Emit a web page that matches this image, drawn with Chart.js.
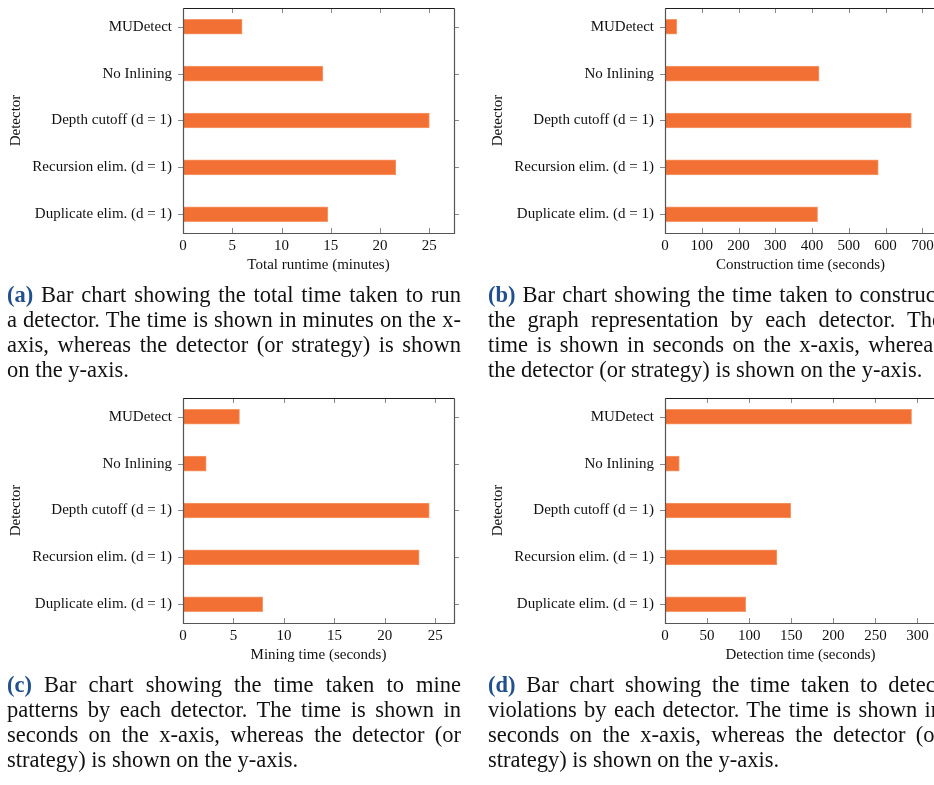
<!DOCTYPE html>
<html>
<head>
<meta charset="utf-8">
<script src="https://cdn.jsdelivr.net/npm/chart.js@4/dist/chart.umd.min.js"></script>
<style>
  html, body { margin: 0; padding: 0; background: #fff; }
  body { width: 934px; height: 785px; overflow: hidden; position: relative; }
  canvas.panel { position: absolute; }
  .caption {
    position: absolute; width: 454px;
    font-family: "Liberation Serif", "DejaVu Serif", serif;
    font-size: 22.5px; line-height: 25px; color: #111;
  }
  .caption .ln { text-align: justify; text-align-last: justify; }
  .caption .ln.last { text-align: left; text-align-last: left; }
  .caption .tag { color: #22508f; font-weight: bold; }
</style>
</head>
<body>
<canvas class="panel" id="chartA" width="467" height="285" style="left:0px;top:0px"></canvas>
<canvas class="panel" id="chartB" width="467" height="285" style="left:482px;top:0px"></canvas>
<canvas class="panel" id="chartC" width="467" height="285" style="left:0px;top:390px"></canvas>
<canvas class="panel" id="chartD" width="467" height="285" style="left:482px;top:390px"></canvas>

<div class="caption" style="left:7px;top:282px">
  <div class="ln"><span class="tag">(a)</span> Bar chart showing the total time taken to run</div>
  <div class="ln">a detector. The time is shown in minutes on the x-</div>
  <div class="ln">axis, whereas the detector (or strategy) is shown</div>
  <div class="ln last">on the y-axis.</div>
</div>
<div class="caption" style="left:488px;top:282px">
  <div class="ln"><span class="tag">(b)</span> Bar chart showing the time taken to construct</div>
  <div class="ln">the graph representation by each detector. The</div>
  <div class="ln">time is shown in seconds on the x-axis, whereas</div>
  <div class="ln last">the detector (or strategy) is shown on the y-axis.</div>
</div>
<div class="caption" style="left:7px;top:672px">
  <div class="ln"><span class="tag">(c)</span> Bar chart showing the time taken to mine</div>
  <div class="ln">patterns by each detector. The time is shown in</div>
  <div class="ln">seconds on the x-axis, whereas the detector (or</div>
  <div class="ln last">strategy) is shown on the y-axis.</div>
</div>
<div class="caption" style="left:488px;top:672px">
  <div class="ln"><span class="tag">(d)</span> Bar chart showing the time taken to detect</div>
  <div class="ln">violations by each detector. The time is shown in</div>
  <div class="ln">seconds on the x-axis, whereas the detector (or</div>
  <div class="ln last">strategy) is shown on the y-axis.</div>
</div>

<script>
// Detectors (strategies), listed top to bottom
const detectors = [
  'MUDetect',
  'No Inlining',
  'Depth cutoff (d = 1)',
  'Recursion elim. (d = 1)',
  'Duplicate elim. (d = 1)'
];

// Measured times per detector
const totalRuntimeMinutes = [6.0, 14.2, 25.0, 21.6, 14.7];
const constructionSeconds = [32, 419, 670, 580, 415];
const miningSeconds = [5.6, 2.3, 24.4, 23.4, 7.9];
const detectionSeconds = [293, 17, 149.5, 133, 96];

// Value-axis ticks
const ticksRuntime = [0, 5, 10, 15, 20, 25];
const ticksConstruction = [0, 100, 200, 300, 400, 500, 600, 700];
const ticksMining = [0, 5, 10, 15, 20, 25];
const ticksDetection = [0, 50, 100, 150, 200, 250, 300];

const SERIF = '"Liberation Serif", "DejaVu Serif", serif';
const BAR_FILL = '#f37035';
const BAR_EDGE = '#f69a6c';

// Box frame plus pgfplots-style tick marks, placed from the chart's own scales
const frameTicks = {
  id: 'frameTicks',
  afterDraw(chart) {
    const { ctx, chartArea: a, scales } = chart;
    const xs = scales.x, ys = scales.y;
    const len = 5;
    ctx.save();
    ctx.lineWidth = 1;
    ctx.strokeStyle = '#8a8a8a';
    ctx.beginPath();
    xs.ticks.forEach(t => {
      const px = Math.round(xs.getPixelForValue(t.value)) + 0.5;
      ctx.moveTo(px, a.bottom); ctx.lineTo(px, a.bottom - len);
      ctx.moveTo(px, a.top); ctx.lineTo(px, a.top + len);
    });
    ys.ticks.forEach(t => {
      const py = Math.round(ys.getPixelForValue(t.value)) + 0.5;
      ctx.moveTo(a.left - len, py); ctx.lineTo(a.left, py);
      ctx.moveTo(a.right, py); ctx.lineTo(a.right + len, py);
    });
    ctx.stroke();

    const L = Math.round(a.left) + 0.5, R = Math.round(a.right) + 0.5;
    const T = Math.round(a.top) + 0.5, B = Math.round(a.bottom) + 0.5;
    ctx.lineWidth = 1.2;
    ctx.strokeStyle = '#555';
    ctx.beginPath();
    ctx.moveTo(L, T); ctx.lineTo(L, B); ctx.lineTo(R, B); ctx.lineTo(R, T);
    ctx.stroke();
    ctx.strokeStyle = '#1e1e1e';
    ctx.beginPath();
    ctx.moveTo(L, T); ctx.lineTo(R, T);
    ctx.stroke();
    ctx.restore();
  }
};

function makeChart(id, values, xTicks, xMax, xTitle) {
  const ctx = document.getElementById(id);
  return new Chart(ctx, {
    type: 'bar',
    data: {
      datasets: [{
        data: values.map((v, i) => ({ x: v, y: i })),
        backgroundColor: BAR_FILL,
        borderColor: BAR_EDGE,
        borderWidth: 1,
        borderSkipped: false,
        barThickness: 15
      }]
    },
    options: {
      indexAxis: 'y',
      responsive: false,
      animation: false,
      devicePixelRatio: 1,
      layout: { padding: { top: 8, right: 13, left: 0, bottom: 0 } },
      plugins: { legend: { display: false }, tooltip: { enabled: false } },
      scales: {
        x: {
          type: 'linear',
          position: 'bottom',
          min: 0,
          max: xMax,
          offset: false,
          border: { display: false },
          grid: { display: false, drawTicks: false },
          ticks: {
            includeBounds: false,
            padding: 4,
            color: '#111',
            font: { family: SERIF, size: 15 }
          },
          afterBuildTicks(s) { s.ticks = xTicks.map(v => ({ value: v })); },
          afterFit(s) { s.height = 52; s.paddingLeft = 0; s.paddingRight = 0; },
          title: {
            display: true,
            text: xTitle,
            color: '#111',
            font: { family: SERIF, size: 15 },
            padding: { top: 0, bottom: 11 }
          }
        },
        y: {
          type: 'linear',
          position: 'left',
          reverse: true,
          min: -0.4,
          max: 4.4,
          offset: false,
          border: { display: false },
          grid: { display: false, drawTicks: false, offset: false },
          ticks: {
            autoSkip: false,
            padding: 11,
            color: '#111',
            font: { family: SERIF, size: 15 },
            callback: v => detectors[v]
          },
          afterBuildTicks(s) { s.ticks = detectors.map((_, i) => ({ value: i })); },
          afterFit(s) { s.width = 183; s.paddingTop = 0; s.paddingBottom = 0; },
          title: {
            display: true,
            text: 'Detector',
            color: '#111',
            font: { family: SERIF, size: 15 },
            padding: { top: 7, bottom: 7 }
          }
        }
      }
    },
    plugins: [frameTicks]
  });
}

makeChart('chartA', totalRuntimeMinutes, ticksRuntime, 27.5, 'Total runtime (minutes)');
makeChart('chartB', constructionSeconds, ticksConstruction, 737, 'Construction time (seconds)');
makeChart('chartC', miningSeconds, ticksMining, 26.85, 'Mining time (seconds)');
makeChart('chartD', detectionSeconds, ticksDetection, 322, 'Detection time (seconds)');
</script>
</body>
</html>
